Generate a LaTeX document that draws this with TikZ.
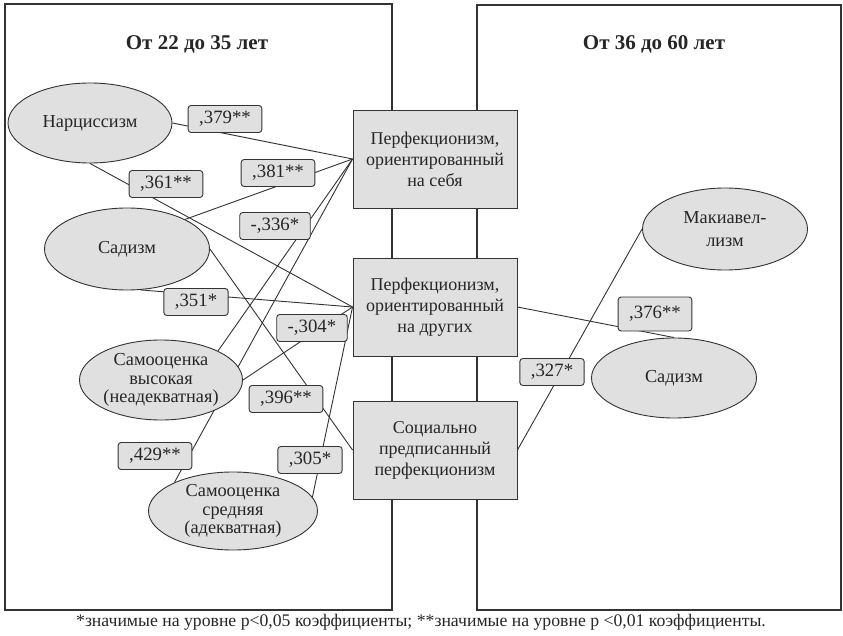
\documentclass[tikz,border=0pt]{standalone}
\usepackage{fontspec}
\setmainfont{Liberation Serif}
\usetikzlibrary{shapes.geometric, backgrounds}
\definecolor{boxgray}{HTML}{E0E0E0}
\definecolor{linegray}{HTML}{333333}

\begin{document}
\begin{tikzpicture}[x=1pt, y=-1pt,
    every node/.style={font=\fontsize{18}{21}\selectfont, text=black!85},
    block/.style={draw=linegray, fill=boxgray, line width=0.9pt, minimum width=164pt, minimum height=98pt, align=center, inner sep=0pt},
    oval/.style={ellipse, draw=linegray, fill=boxgray, line width=0.9pt, align=center, inner sep=-10pt, font=\fontsize{18.3}{18.5}\selectfont},
    coef/.style={draw=linegray, fill=boxgray, line width=0.9pt, rounded corners=3pt, inner xsep=11pt, inner ysep=0pt, minimum height=27pt, font=\fontsize{18.8}{21}\selectfont},
    link/.style={draw=linegray, line width=0.9pt}]
            \useasboundingbox (0,0) rectangle (843,636);
            \draw[linegray, line width=1.2pt] (5,4) rectangle (392,610);
            \draw[linegray, line width=1.2pt] (477,5) rectangle (841,610);
            \node[font=\bfseries\fontsize{21}{24}\selectfont] (ageA) at (197,44) {От 22 до 35 лет};
            \node[font=\bfseries\fontsize{21}{24}\selectfont] (ageB) at (654,44) {От 36 до 60 лет};

            \node[block] (self) at (435,159) {Перфекционизм,\\ориентированный\\на себя};
            \node[block] (others) at (435,307) {Перфекционизм,\\ориентированный\\на других};
            \node[block] (social) at (435,450) {Социально\\предписанный\\перфекционизм};

            \node[oval, minimum width=164pt, minimum height=80pt] (narc) at (90,123) {Нарциссизм};
            \node[oval, minimum width=165pt, minimum height=82pt] (sadA) at (127,249) {Садизм};
            \node[oval, minimum width=163pt, minimum height=80pt] (selfhigh) at (161,380) {Самооценка\\высокая\\(неадекватная)};
            \node[oval, minimum width=169pt, minimum height=78pt] (selfmid) at (233,511) {Самооценка\\средняя\\(адекватная)};
            \node[oval, minimum width=165pt, minimum height=82pt, font=\fontsize{18.3}{23}\selectfont] (mach) at (725,229) {Макиавел-\\лизм};
            \node[oval, minimum width=165pt, minimum height=80pt] (sadB) at (674,378) {Садизм};

            \begin{scope}[on background layer]
                \draw[link] (narc.east) -- (self.west);
                \draw[link] (narc.south) -- (others.west);
                \draw[link] (sadA.27) -- (self.west);
                \draw[link] (sadA.east) -- (social.west);
                \draw[link] (sadA.288) -- (others.west);
                \draw[link] (selfhigh.27) -- (self.west);
                \draw[link] (selfhigh.east) -- (others.west);
                \draw[link] (selfmid.154) -- (self.west);
                \draw[link] (selfmid.10) -- (others.west);
                \draw[link] (others.east) -- (sadB.north);
                \draw[link] (social.east) -- (mach.west);
            \end{scope}

            \node[coef] (c379) at (225,119) {,379**};
            \node[coef] (c361) at (166,184) {,361**};
            \node[coef] (c381) at (278,173) {,381**};
            \node[coef] (c336) at (275,226) {-,336*};
            \node[coef] (c351) at (196,302) {,351*};
            \node[coef] (c304) at (312,328) {-,304*};
            \node[coef] (c396) at (286,399) {,396**};
            \node[coef] (c429) at (155,456) {,429**};
            \node[coef] (c305) at (310,460) {,305*};
            \node[coef, minimum height=34pt] (c376) at (655,314) {,376**};
            \node[coef] (c327) at (552,372) {,327*};

            \node[font=\fontsize{17.7}{20}\selectfont] (note) at (421,622) {*значимые на уровне p<0,05 коэффициенты; **значимые на уровне p <0,01 коэффициенты.};
        \end{tikzpicture}
\end{document}
